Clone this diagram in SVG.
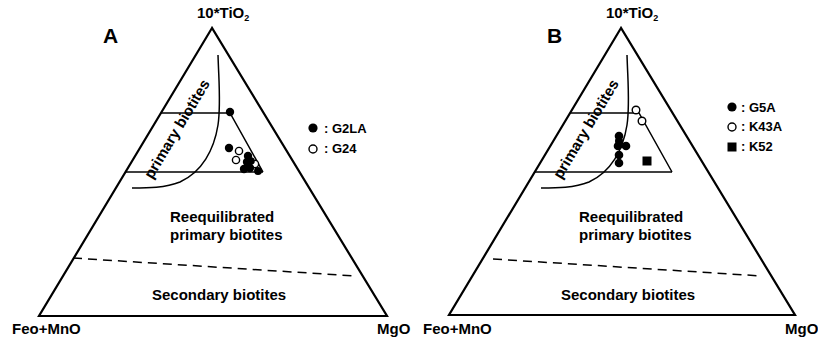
<svg xmlns="http://www.w3.org/2000/svg" width="818" height="338" viewBox="0 0 818 338">
<style>
text{font-family:"Liberation Sans",Arial,sans-serif;font-weight:bold;fill:#000}
.lbl{font-size:15px}
.leg{font-size:13px}
.panel{font-size:21px}
.tri{fill:none;stroke:#000;stroke-width:2.2;stroke-linejoin:miter}
.ln{fill:none;stroke:#000;stroke-width:1.5}
.dash{fill:none;stroke:#000;stroke-width:1.5;stroke-dasharray:9 6}
.f{fill:#000;stroke:none}
.o{fill:#fff;stroke:#000;stroke-width:1.4}
</style>
<rect width="818" height="338" fill="#fff"/>

<g id="panelA">
  <text class="panel" x="103" y="43">A</text>
  <text class="lbl" x="197" y="18">10*TiO<tspan font-size="9" dy="3">2</tspan></text>
  <polygon class="tri" points="212,28 39,316 387,316"/>
  <text class="lbl" x="12" y="334">Feo+MnO</text>
  <text class="lbl" x="377" y="334">MgO</text>
  <g id="fieldsA">
    <polyline class="ln" points="161,113 230,113 263,172"/>
    <line class="ln" x1="126" y1="172" x2="263" y2="172"/>
    <path class="ln" d="M218,55 C219,85 221,105 218,125 C214,150 202,172 180,182 C165,188 148,188 132,188"/>
    <line class="dash" x1="73" y1="258" x2="356" y2="276"/>
    <text class="lbl" transform="translate(177,129) rotate(-59)" text-anchor="middle" y="5">primary biotites</text>
    <text class="lbl" x="170" y="222">Reequilibrated</text>
    <text class="lbl" x="170" y="240">primary biotites</text>
    <text class="lbl" x="152" y="300">Secondary biotites</text>
  </g>
  <g id="pointsA">
    <circle class="f" cx="230" cy="112" r="4.2"/>
    <circle class="f" cx="229" cy="148" r="4.2"/>
    <circle class="o" cx="239" cy="151" r="3.6"/>
    <circle class="o" cx="236" cy="160" r="3.6"/>
    <circle class="o" cx="255" cy="164" r="3.6"/>
    <circle class="f" cx="248" cy="156" r="4.2"/>
    <circle class="f" cx="247" cy="162" r="4.2"/>
    <circle class="f" cx="251" cy="161" r="3.8"/>
    <circle class="f" cx="244" cy="169" r="4.2"/>
    <circle class="f" cx="250" cy="168" r="4.2"/>
    <circle class="f" cx="258" cy="171" r="4"/>
  </g>
  <g id="legendA">
    <circle class="f" cx="313" cy="128" r="4.6"/>
    <text class="leg" x="324" y="133">: G2LA</text>
    <circle class="o" cx="313" cy="149" r="4"/>
    <text class="leg" x="324" y="153">: G24</text>
  </g>
</g>

<g id="panelB">
  <text class="panel" x="547" y="43">B</text>
  <text class="lbl" x="606" y="18">10*TiO<tspan font-size="9" dy="3">2</tspan></text>
  <polygon class="tri" points="621,28 449,315 795,315"/>
  <text class="lbl" x="423" y="334">Feo+MnO</text>
  <text class="lbl" x="785" y="334">MgO</text>
  <g id="fieldsB" transform="translate(409,0)">
    <polyline class="ln" points="161,113 230,113 263,172"/>
    <line class="ln" x1="126" y1="172" x2="263" y2="172"/>
    <path class="ln" d="M218,55 C219,85 221,105 218,125 C214,150 202,172 180,182 C165,188 148,188 132,188"/>
    <line class="dash" x1="84" y1="259" x2="353" y2="276"/>
    <text class="lbl" transform="translate(177,129) rotate(-59)" text-anchor="middle" y="5">primary biotites</text>
    <text class="lbl" x="170" y="222">Reequilibrated</text>
    <text class="lbl" x="170" y="240">primary biotites</text>
    <text class="lbl" x="152" y="300">Secondary biotites</text>
  </g>
  <g id="pointsB">
    <circle class="o" cx="636" cy="110" r="3.8"/>
    <circle class="o" cx="642" cy="121" r="3.8"/>
    <circle class="f" cx="619" cy="136" r="4.3"/>
    <circle class="f" cx="619" cy="141" r="4"/>
    <circle class="f" cx="618" cy="146" r="4.3"/>
    <circle class="f" cx="626" cy="146" r="4.3"/>
    <circle class="f" cx="619" cy="155" r="4.3"/>
    <circle class="f" cx="619" cy="163" r="4.3"/>
    <rect class="f" x="642.5" y="156.5" width="9" height="9"/>
  </g>
  <g id="legendB">
    <circle class="f" cx="732" cy="107" r="4.6"/>
    <text class="leg" x="741" y="112">: G5A</text>
    <circle class="o" cx="732" cy="127" r="4"/>
    <text class="leg" x="741" y="131">: K43A</text>
    <rect class="f" x="727.5" y="142.5" width="9" height="9"/>
    <text class="leg" x="741" y="151">: K52</text>
  </g>
</g>
</svg>
